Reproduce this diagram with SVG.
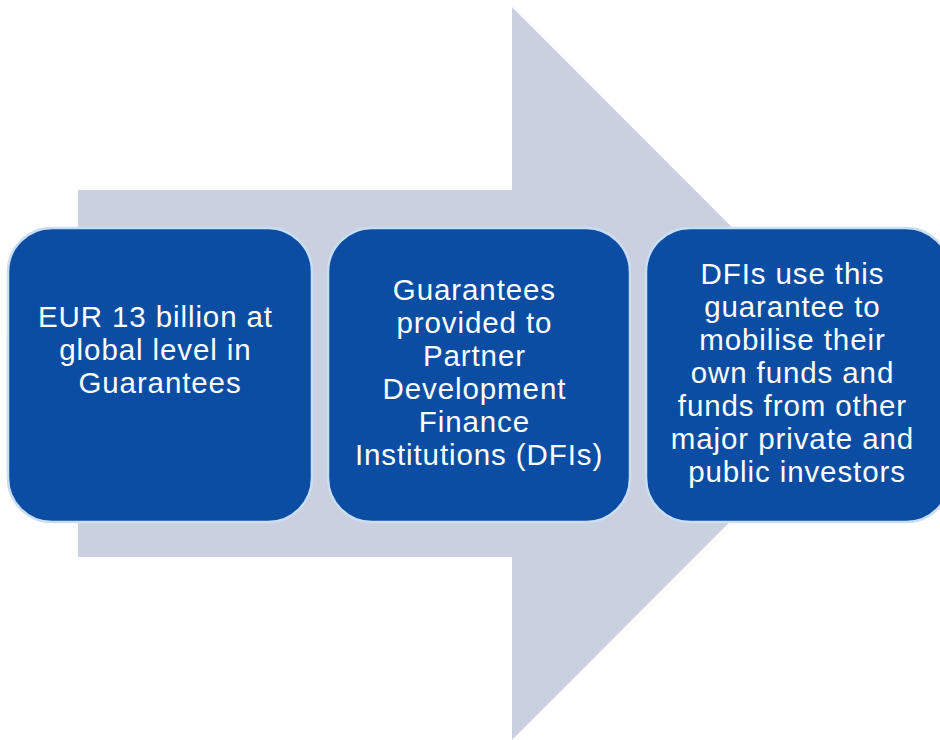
<svg xmlns="http://www.w3.org/2000/svg" width="940" height="740" viewBox="0 0 940 740">
  <style>
    .box { fill: #0b4da2; stroke: #c9ddf3; stroke-width: 2.5; }
    .label { font-family: "Liberation Sans", Arial, sans-serif; font-size: 29.5px; letter-spacing: 0.9px; fill: #ffffff; text-anchor: middle; }
  </style>
  <rect width="940" height="740" fill="#ffffff"/>
  <!-- Background block arrow -->
  <g id="flow-arrow">
    <path d="M78 190 H512 V7 L878 373.5 L512 740 V557 H78 Z" fill="#cbd0e0"/>
  </g>
  <g id="connectors"></g>
  <g id="node-guarantees">
    <rect class="box" x="8" y="228" width="304" height="294" rx="44" ry="44"/>
    <text class="label">
      <tspan x="160" y="327">EUR 13 billion at</tspan>
      <tspan x="160" y="360">global level in</tspan>
      <tspan x="160" y="393">Guarantees</tspan>
    </text>
  </g>
  <g id="node-partners">
    <rect class="box" x="328" y="228" width="302" height="294" rx="44" ry="44"/>
    <text class="label">
      <tspan x="479" y="300">Guarantees</tspan>
      <tspan x="479" y="333">provided to</tspan>
      <tspan x="479" y="366">Partner</tspan>
      <tspan x="479" y="399">Development</tspan>
      <tspan x="479" y="432">Finance</tspan>
      <tspan x="479" y="465">Institutions (DFIs)</tspan>
    </text>
  </g>
  <g id="node-mobilise">
    <rect class="box" x="646" y="228" width="304" height="294" rx="44" ry="44"/>
    <text class="label">
      <tspan x="797" y="284">DFIs use this</tspan>
      <tspan x="797" y="317">guarantee to</tspan>
      <tspan x="797" y="350">mobilise their</tspan>
      <tspan x="797" y="383">own funds and</tspan>
      <tspan x="797" y="416">funds from other</tspan>
      <tspan x="797" y="449">major private and</tspan>
      <tspan x="797" y="482">public investors</tspan>
    </text>
  </g>
</svg>
